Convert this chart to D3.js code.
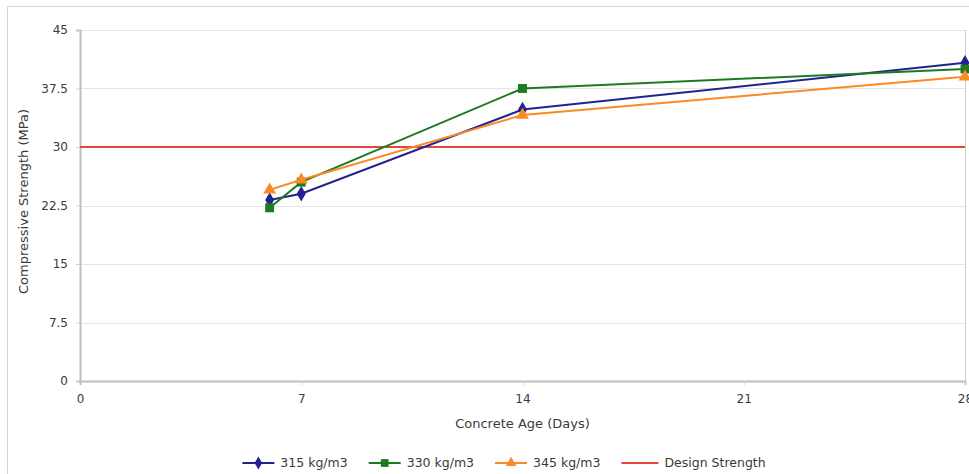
<!DOCTYPE html>
<html>
<head>
<meta charset="utf-8">
<script src="https://cdn.jsdelivr.net/npm/d3@7/dist/d3.min.js"></script>
<style>
  html, body { margin: 0; padding: 0; background: #fff; }
  svg { display: block; font-family: "DejaVu Sans", Verdana, sans-serif; }
</style>
</head>
<body>
<svg id="chart" width="969" height="474"></svg>
<script>
// Concrete age in days at which cylinders were tested
const ages = [6, 7, 14, 28];

// Compressive strength (MPa) per cement content
const mix315 = [23.2, 24.0, 34.8, 40.8];
const mix330 = [22.2, 25.5, 37.5, 40.0];
const mix345 = [24.5, 25.8, 34.1, 39.0];

const designStrength = 30;

const seriesNames = ["315 kg/m3", "330 kg/m3", "345 kg/m3"];
const designName = "Design Strength";

const xTicks = [0, 7, 14, 21, 28];
const yTicks = [0, 7.5, 15, 22.5, 30, 37.5, 45];

const colors = ["#23238f", "#1d7a22", "#fb8a25"];
const designColor = "#e2473f";
const shapes = [d3.symbolDiamond, d3.symbolSquare, d3.symbolTriangle];

const series = [mix315, mix330, mix345].map((vals, i) => ({
  name: seriesNames[i],
  color: colors[i],
  shape: shapes[i],
  points: ages.map((a, j) => ({ x: a, y: vals[j] }))
}));

const svg = d3.select("#chart");
const W = 969, H = 474;
const m = { left: 80, top: 30, right: 4, bottom: 93 };
const pw = W - m.left - m.right;
const ph = H - m.top - m.bottom;
const textColor = "#3a3a3a";

// outer frame
svg.append("rect")
  .attr("x", 7.5).attr("y", 6.5)
  .attr("width", W + 10).attr("height", H + 10)
  .attr("fill", "none").attr("stroke", "#d6d6d6");

const x = d3.scaleLinear().domain([0, 28]).range([m.left, m.left + pw]);
const y = d3.scaleLinear().domain([0, 45]).range([m.top + ph, m.top]);

const g = svg.append("g");

// horizontal gridlines
g.append("g").selectAll("line")
  .data(yTicks.filter(t => t > 0))
  .join("line")
  .attr("x1", x(0)).attr("x2", x(28))
  .attr("y1", d => Math.round(y(d)) + 0.5).attr("y2", d => Math.round(y(d)) + 0.5)
  .attr("stroke", "#e4e4e4");

// right edge of plot area
g.append("line")
  .attr("x1", Math.round(x(28)) + 0.5).attr("x2", Math.round(x(28)) + 0.5)
  .attr("y1", y(45)).attr("y2", y(0))
  .attr("stroke", "#cfcfcf");

// axes
const yAxis = d3.axisLeft(y).tickValues(yTicks).tickSize(4).tickPadding(8)
  .tickFormat(d => d3.format("~g")(d));
const xAxis = d3.axisBottom(x).tickValues(xTicks).tickSize(4).tickPadding(12)
  .tickFormat(d3.format("d"));

const ya = g.append("g")
  .attr("transform", `translate(${x(0)},0)`)
  .call(yAxis);
const xa = g.append("g")
  .attr("transform", `translate(0,${y(0)})`)
  .call(xAxis);

[ya, xa].forEach(a => {
  a.select(".domain").attr("stroke", "#bdbdbd").attr("stroke-width", 2);
  a.selectAll(".tick line").attr("stroke", "#d0d0d0");
  a.selectAll(".tick text")
    .attr("fill", textColor)
    .style("font-family", "'DejaVu Sans', Verdana, sans-serif")
    .style("font-size", "12px");
});
xa.selectAll(".tick text").attr("dy", "0.5em");
xa.selectAll(".tick").filter(d => d === 0).select("line").remove();

// axis titles
svg.append("text")
  .attr("transform", `translate(23,${y(22.5) - 4}) rotate(-90)`)
  .attr("text-anchor", "middle")
  .attr("dy", "0.35em")
  .attr("fill", textColor)
  .style("font-size", "13px")
  .text("Compressive Strength (MPa)");

svg.append("text")
  .attr("x", x(14)).attr("y", 423)
  .attr("dy", "0.35em")
  .attr("text-anchor", "middle")
  .attr("fill", textColor)
  .style("font-size", "13px")
  .text("Concrete Age (Days)");

// design strength reference line
g.append("line")
  .attr("x1", x(0)).attr("x2", x(28))
  .attr("y1", y(designStrength)).attr("y2", y(designStrength))
  .attr("stroke", designColor).attr("stroke-width", 2);

// series lines and markers
const line = d3.line().x(d => x(d.x)).y(d => y(d.y));
series.forEach(s => {
  g.append("path")
    .datum(s.points)
    .attr("d", line)
    .attr("fill", "none")
    .attr("stroke", s.color)
    .attr("stroke-width", 2);
  g.append("g").selectAll("path")
    .data(s.points)
    .join("path")
    .attr("transform", d => `translate(${x(d.x)},${y(d.y)})`)
    .attr("d", d3.symbol().type(s.shape).size(s.shape === d3.symbolSquare ? 80 : 70))
    .attr("fill", s.color);
});

// legend: items laid out left to right, the row centred under the chart
const legendItems = [
  ...series.map(s => ({ name: s.name, color: s.color, shape: s.shape, len: 32 })),
  { name: designName, color: designColor, shape: null, len: 37 }
];
const leg = svg.append("g");
const itemGap = 21;
const groups = legendItems.map(it => {
  const gi = leg.append("g");
  gi.append("line").attr("x1", 0).attr("x2", it.len)
    .attr("y1", 0).attr("y2", 0)
    .attr("stroke", it.color).attr("stroke-width", 2);
  if (it.shape) {
    gi.append("path")
      .attr("transform", `translate(${it.len / 2},0)`)
      .attr("d", d3.symbol().type(it.shape).size(it.shape === d3.symbolSquare ? 60 : 50))
      .attr("fill", it.color);
  }
  const t = gi.append("text")
    .attr("x", it.len + 6).attr("y", 0).attr("dy", "0.35em")
    .attr("fill", textColor)
    .style("font-size", "12.5px")
    .text(it.name);
  return { gi, w: it.len + 6 + t.node().getComputedTextLength() };
});
const total = d3.sum(groups, d => d.w) + itemGap * (groups.length - 1);
let cx = 504 - total / 2;
groups.forEach(d => {
  d.gi.attr("transform", `translate(${cx},463)`);
  cx += d.w + itemGap;
});
</script>
</body>
</html>
